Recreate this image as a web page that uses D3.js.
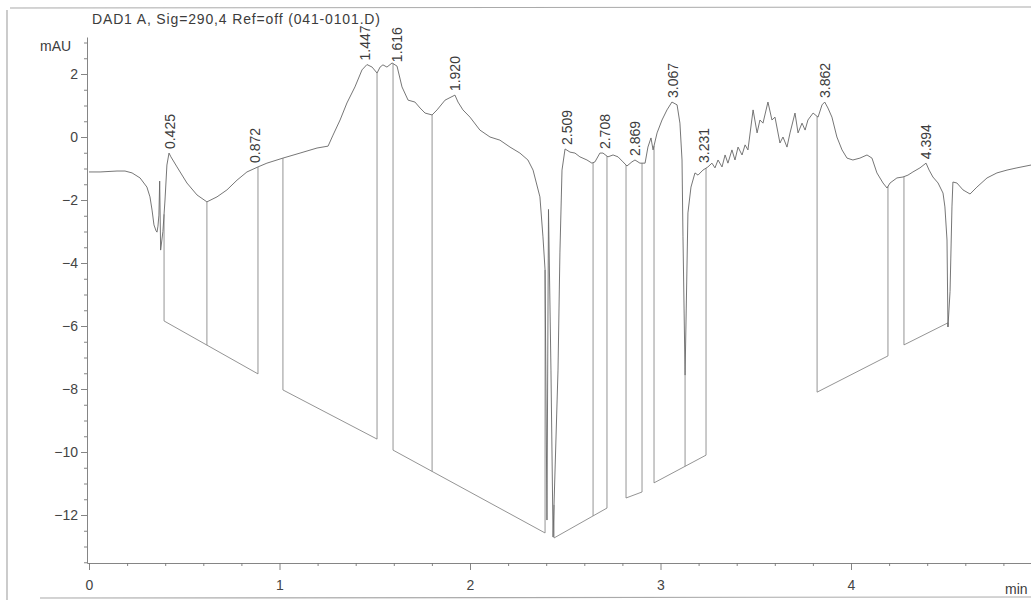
<!DOCTYPE html>
<html>
<head>
<meta charset="utf-8">
<script src="https://cdn.jsdelivr.net/npm/d3@7"></script>
<style>
    body { margin: 0; background: #fff; }
    svg { display: block; font-family: "Liberation Sans", Arial, sans-serif; }
    .trace { fill: none; stroke: #666; stroke-width: 0.9; stroke-linejoin: round; }
    .baseline { fill: none; stroke: #888; stroke-width: 0.9; }
    .axis path, .axis line { stroke: #777; stroke-width: 0.9; }
    .axis text { fill: #444; font-size: 14px; }
    .label { fill: #3c3c3c; font-size: 14px; }
    .page { stroke: #aaa; stroke-width: 1.2; fill: none; }
</style>
</head>
<body>
<svg class="canvas" width="1031" height="600"></svg>
<script>
// signal: [time (min), absorbance (mAU)]
var signal = [
    [0.000,-1.11],[0.058,-1.11],[0.147,-1.08],[0.189,-1.08],[0.226,-1.14],[0.268,-1.30],[0.304,-1.59],
    [0.320,-1.90],[0.331,-2.32],[0.341,-2.79],[0.352,-2.98],[0.357,-3.02],[0.362,-2.83],[0.367,-2.48],
    [0.371,-1.40],[0.376,-3.59],[0.388,-3.00],[0.399,-2.00],[0.409,-0.89],[0.420,-0.51],[0.430,-0.63],
    [0.462,-0.95],[0.514,-1.46],[0.567,-1.84],[0.619,-2.06],[0.672,-1.90],[0.724,-1.68],[0.777,-1.37],
    [0.829,-1.11],[0.887,-0.95],[0.934,-0.83],[1.018,-0.67],[1.108,-0.51],[1.197,-0.35],[1.255,-0.29],
    [1.281,0.06],[1.318,0.54],[1.354,1.08],[1.396,1.59],[1.433,2.13],[1.459,2.30],[1.486,2.22],
    [1.512,2.03],[1.528,2.22],[1.543,2.29],[1.564,2.22],[1.591,2.35],[1.617,2.25],[1.643,1.59],
    [1.675,1.17],[1.711,1.11],[1.738,0.92],[1.764,0.76],[1.801,0.70],[1.827,0.86],[1.869,1.17],
    [1.921,1.33],[1.937,1.11],[1.963,0.86],[2.000,0.63],[2.052,0.22],[2.105,0.00],[2.157,-0.10],
    [2.210,-0.32],[2.262,-0.51],[2.304,-0.73],[2.331,-1.05],[2.367,-1.90],[2.383,-3.17],[2.394,-4.22],
    [2.404,-12.16],[2.412,-2.30],[2.425,-7.40],[2.436,-12.70],[2.462,-7.40],[2.472,-3.68],[2.483,-1.05],
    [2.499,-0.38],[2.525,-0.48],[2.551,-0.51],[2.577,-0.63],[2.614,-0.73],[2.640,-0.83],[2.656,-0.79],
    [2.682,-0.51],[2.698,-0.51],[2.724,-0.63],[2.751,-0.57],[2.777,-0.63],[2.803,-0.79],[2.824,-0.92],
    [2.850,-0.79],[2.866,-0.73],[2.892,-0.83],[2.919,-0.83],[2.934,-0.32],[2.950,-0.03],[2.961,-0.41],
    [2.982,0.13],[3.008,0.54],[3.034,0.86],[3.060,1.11],[3.087,1.02],[3.102,0.44],[3.113,-0.73],
    [3.118,-3.17],[3.129,-7.56],[3.144,-2.41],[3.160,-1.59],[3.181,-1.14],[3.197,-1.21],[3.223,-1.05],
    [3.249,-0.95],[3.270,-0.83],[3.286,-0.98],[3.302,-0.73],[3.323,-0.95],[3.339,-0.57],[3.354,-0.83],
    [3.375,-0.41],[3.391,-0.73],[3.407,-0.32],[3.428,-0.57],[3.444,-0.25],[3.459,-0.41],[3.486,0.86],
    [3.507,0.13],[3.522,0.54],[3.538,0.44],[3.564,1.11],[3.585,0.54],[3.601,0.63],[3.627,-0.19],
    [3.643,0.00],[3.664,-0.32],[3.680,0.13],[3.706,0.76],[3.722,0.13],[3.743,0.44],[3.759,0.22],
    [3.774,0.54],[3.801,0.76],[3.827,0.63],[3.848,1.02],[3.862,1.11],[3.879,0.92],[3.900,0.63],
    [3.926,0.00],[3.953,-0.41],[3.979,-0.67],[4.010,-0.73],[4.047,-0.67],[4.084,-0.57],[4.110,-0.67],
    [4.136,-1.14],[4.168,-1.46],[4.189,-1.62],[4.205,-1.46],[4.241,-1.30],[4.273,-1.27],[4.299,-1.21],
    [4.325,-1.11],[4.362,-0.98],[4.394,-0.83],[4.410,-1.05],[4.430,-1.27],[4.457,-1.46],[4.483,-1.78],
    [4.493,-2.22],[4.504,-3.27],[4.509,-6.03],[4.520,-4.90],[4.530,-2.22],[4.535,-1.43],[4.556,-1.46],
    [4.588,-1.68],[4.625,-1.81],[4.661,-1.59],[4.714,-1.30],[4.766,-1.14],[4.819,-1.05],[4.871,-0.98],
    [4.945,-0.89]
];

var peakTimes = [0.425, 0.872, 1.447, 1.616, 1.920, 2.509, 2.708, 2.869, 3.067, 3.231, 3.862, 4.394];

// integration baselines: start/end [min, mAU] and the drop lines (min)
var baselineStarts = [[0.394,-5.84],[1.018,-8.03],[1.596,-9.94],[2.441,-12.73],[2.819,-11.46],[2.966,-10.98],[3.822,-8.10],[4.278,-6.60]];
var baselineEnds   = [[0.887,-7.52],[1.512,-9.59],[2.394,-12.57],[2.719,-11.78],[2.903,-11.27],[3.239,-10.10],[4.194,-6.95],[4.509,-5.90]];
var baselineDrops  = [[0.619],[],[1.801],[2.646],[],[3.129],[],[]];

var yMajorTicks = [-12, -10, -8, -6, -4, -2, 0, 2];
var xMajorTicks = [0, 1, 2, 3, 4];
var titleText = 'DAD1 A, Sig=290,4 Ref=off (041-0101.D)';
var yUnit = 'mAU';
var xUnit = 'min';

class Chromatogram {
    constructor (frame) {
        this.frame = frame;
        this.svg = d3.select('.canvas');
        // 190.5 px per minute, 31.5 px per mAU, as on the printout
        this.x = d3.scaleLinear().domain([-2 / 190.5, (frame.right - 89) / 190.5]).range([frame.left, frame.right]);
        this.y = d3.scaleLinear().domain([(137 - frame.bottom) / 31.5, (137 - frame.top) / 31.5]).range([frame.bottom, frame.top]);
        this.bisect = d3.bisector(function(d){ return d[0]; }).left;
    }

    valueAt (t) {
        var i = this.bisect(signal, t);
        if (i <= 0) return signal[0][1];
        if (i >= signal.length) return signal[signal.length - 1][1];
        var a = signal[i - 1], b = signal[i];
        return a[1] + (b[1] - a[1]) * (t - a[0]) / (b[0] - a[0]);
    }

    drawPage () {
        this.svg.append('path').classed('page', true)
            .attr('d', 'M10,8 L1031,7 M7,10 L7,600 M40,598 L1031,597');
    }

    drawAxes () {
        var x = this.x, y = this.y, f = this.frame;
        var yMinor = d3.range(-13.5, 3.01, 0.5).filter(function(v){ return yMajorTicks.indexOf(v) === -1; });
        var xMinor = d3.range(0.2, 4.95, 0.2).filter(function(v){ return Math.abs(v - Math.round(v)) > 0.01; });

        this.svg.append('g').classed('axis', true)
            .attr('transform', 'translate(' + f.left + ',0)')
            .call(d3.axisLeft(y).tickValues(yMinor).tickSize(3).tickSizeOuter(0).tickFormat(''));
        var ya = this.svg.append('g').classed('axis', true)
            .attr('transform', 'translate(' + f.left + ',0)')
            .call(d3.axisLeft(y).tickValues(yMajorTicks).tickSize(6).tickSizeOuter(0).tickPadding(3).tickFormat(d3.format('d')));
        ya.select('.domain').remove();

        this.svg.append('g').classed('axis', true)
            .attr('transform', 'translate(0,' + f.bottom + ')')
            .call(d3.axisBottom(x).tickValues(xMinor).tickSize(3).tickSizeOuter(0).tickFormat(''));
        var xa = this.svg.append('g').classed('axis', true)
            .attr('transform', 'translate(0,' + f.bottom + ')')
            .call(d3.axisBottom(x).tickValues(xMajorTicks).tickSize(7).tickSizeOuter(0).tickPadding(10).tickFormat(d3.format('d')));
        xa.select('.domain').remove();

        this.svg.append('text').classed('label', true)
            .attr('x', 40).attr('y', 51).text(yUnit);
        this.svg.append('text').classed('label', true)
            .attr('x', 1005).attr('y', 594).text(xUnit);
        this.svg.append('text').classed('label', true)
            .attr('x', 92).attr('y', 24)
            .attr('textLength', 288).attr('lengthAdjust', 'spacing')
            .text(titleText);
    }

    drawBaselines () {
        var self = this, x = this.x, y = this.y;
        var g = this.svg.append('g');
        baselineStarts.forEach(function(s, i){
            var e = baselineEnds[i];
            var base = d3.scaleLinear().domain([s[0], e[0]]).range([s[1], e[1]]);
            g.append('line').classed('baseline', true)
                .attr('x1', x(s[0])).attr('y1', y(s[1]))
                .attr('x2', x(e[0])).attr('y2', y(e[1]));
            [s[0]].concat(baselineDrops[i], [e[0]]).forEach(function(t){
                g.append('line').classed('baseline', true)
                    .attr('x1', x(t)).attr('y1', y(base(t)))
                    .attr('x2', x(t)).attr('y2', y(self.valueAt(t)));
            });
        });
    }

    drawTrace () {
        var x = this.x, y = this.y;
        this.svg.append('path').datum(signal).classed('trace', true)
            .attr('d', d3.line().x(function(d){ return x(d[0]); }).y(function(d){ return y(d[1]); }));
    }

    drawPeakLabels () {
        var x = this.x, y = this.y;
        this.svg.append('g').selectAll('text').data(peakTimes).enter().append('text')
            .classed('label', true)
            .attr('transform', function(t){
                var near = signal.filter(function(d){ return Math.abs(d[0] - t) <= 0.02; });
                var top = d3.max(near, function(d){ return d[1]; });
                return 'translate(' + x(t) + ',' + (y(top) - 4) + ') rotate(-90)';
            })
            .attr('dy', '0.35em')
            .text(function(t){ return t.toFixed(3); });
    }
}

var chart = new Chromatogram({left: 87, top: 37, right: 1031, bottom: 563});
chart.drawPage();
chart.drawAxes();
chart.drawBaselines();
chart.drawTrace();
chart.drawPeakLabels();
</script>
</body>
</html>
